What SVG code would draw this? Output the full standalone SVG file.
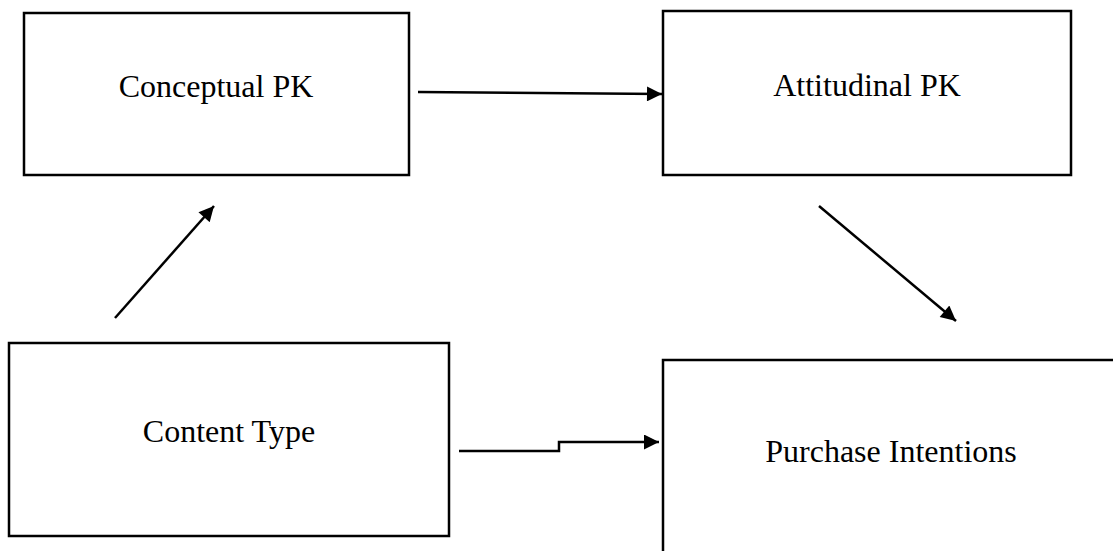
<svg xmlns="http://www.w3.org/2000/svg" width="1113" height="551" viewBox="0 0 1113 551">
<defs>
<style>
.box{fill:#fff;stroke:#000;stroke-width:2.5}
.lbl{font-family:"Liberation Serif","Times New Roman",serif;font-size:32px;fill:#000;text-anchor:middle}
.con{fill:none;stroke:#000;stroke-width:2.5}
</style>
<marker id="ah" viewBox="0 0 10 10" refX="10" refY="5" markerWidth="17" markerHeight="15" markerUnits="userSpaceOnUse" orient="auto">
<path d="M0,0 L10,5 L0,10 z" fill="#000"/>
</marker>
</defs>
<rect width="1113" height="551" fill="#fff"/>
<g id="n-conceptual">
<rect class="box" x="24" y="13" width="385" height="162"/>
<text class="lbl" x="216" y="97">Conceptual PK</text>
</g>
<g id="n-attitudinal">
<rect class="box" x="663" y="11" width="408" height="164"/>
<text class="lbl" x="867" y="96">Attitudinal PK</text>
</g>
<g id="n-content">
<rect class="box" x="9" y="343" width="440" height="193"/>
<text class="lbl" x="229" y="442">Content Type</text>
</g>
<g id="n-purchase">
<rect class="box" x="663" y="360" width="500" height="250"/>
<text class="lbl" x="891" y="462">Purchase Intentions</text>
</g>
<g id="connectors">
<path class="con" d="M418,92 L662,94" marker-end="url(#ah)"/>
<path class="con" d="M115,318 L214,206" marker-end="url(#ah)"/>
<path class="con" d="M819,206 L956,321" marker-end="url(#ah)"/>
<path class="con" d="M459,451 L559,451 L559,442 L659,442" marker-end="url(#ah)"/>
</g>
</svg>
